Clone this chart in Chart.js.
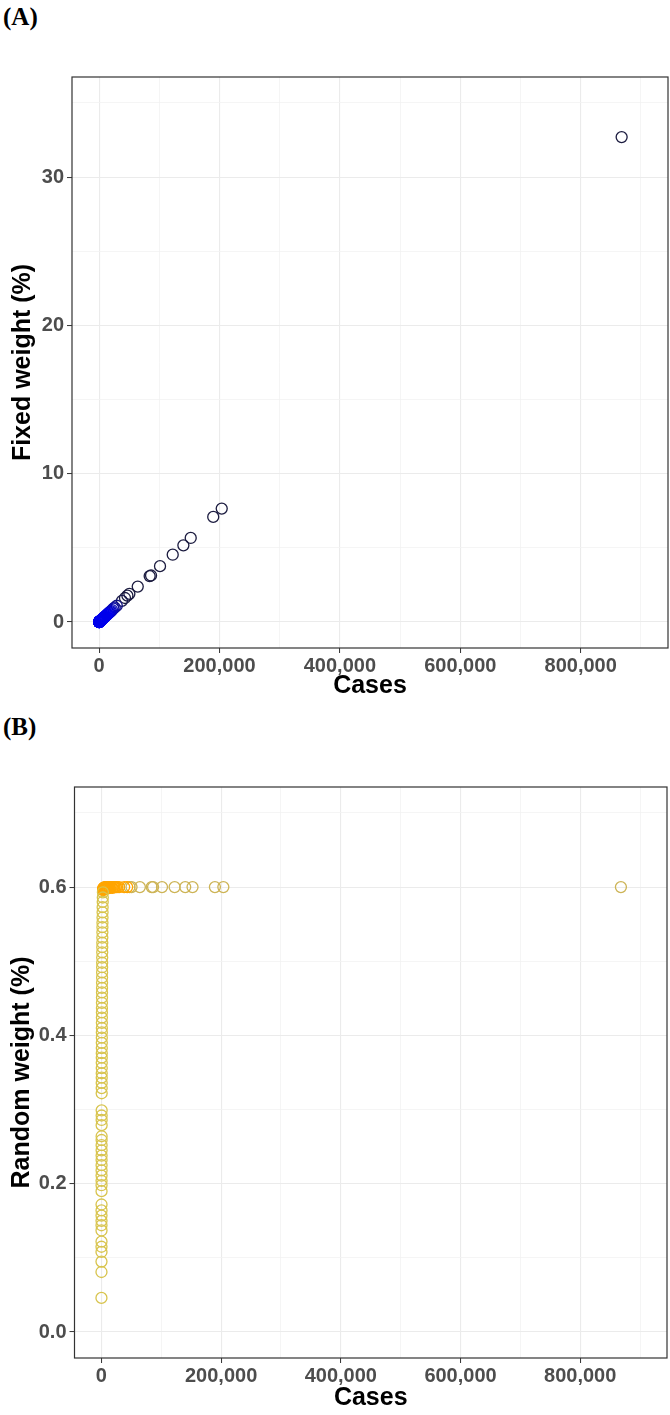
<!DOCTYPE html>
<html><head><meta charset="utf-8">
<script src="https://cdn.jsdelivr.net/npm/chart.js@4.4.1/dist/chart.umd.min.js"></script>
<style>
html,body{margin:0;padding:0;background:#fff;}
body{width:670px;height:1415px;position:relative;overflow:hidden;}
.lab{position:absolute;left:3px;font-family:"Liberation Serif","Times New Roman",serif;font-weight:bold;font-size:25px;line-height:1;color:#000;}
.wrap{position:absolute;left:0;width:670px;}
canvas{display:block;}
</style></head><body>
<div class="lab" style="top:4px">(A)</div>
<div class="lab" style="top:714px">(B)</div>
<div class="wrap" style="top:0;height:710px"><canvas id="cA" width="670" height="710"></canvas></div>
<div class="wrap" style="top:710px;height:705px"><canvas id="cB" width="670" height="705"></canvas></div>
<script>
// ---- data (one entry per country) ----
const cases = [
  868000, 203700, 189600, 152200, 140000, 122300, 101200, 86300, 84000, 64200,
  50300, 47000, 43000, 38000, 29400, 26000, 23700, 21500, 19800, 18300,
  16900, 15400, 14100, 12900, 11800, 10700, 9800, 9000, 8200, 7500,
  6900, 6300, 5800, 5300, 4900, 4500, 4100, 3800, 3500, 3200, 2900, 2700,
  2450, 2300, 2150, 2000, 1900, 1800, 1720, 1650, 1580, 1500,
  1440, 1380, 1320, 1260, 1210, 1160, 1110, 1060, 1020, 980,
  940, 900, 860, 830, 800, 770, 740, 710, 680, 650,
  625, 600, 575, 550, 530, 510, 490, 470, 450, 430,
  410, 370, 355, 340, 325, 300, 290, 280, 270, 258,
  246, 234, 222, 210, 200, 190, 178, 158, 148, 140,
  132, 125, 118, 104, 97, 90, 78, 64, 32
];
const fixedWeight = [
  32.7, 7.65, 7.09, 5.67, 5.17, 4.54, 3.77, 3.14, 3.10, 2.39,
  1.90, 1.78, 1.62, 1.43, 1.10, 0.98, 0.90, 0.81, 0.74, 0.69,
  0.64, 0.58, 0.53, 0.49, 0.45, 0.40, 0.37, 0.34, 0.31, 0.28,
  0.26, 0.24, 0.22, 0.20, 0.18, 0.17, 0.155, 0.14, 0.13, 0.12, 0.11, 0.10,
  0.092, 0.087, 0.081, 0.075, 0.072, 0.068, 0.065, 0.062, 0.060, 0.057,
  0.054, 0.052, 0.050, 0.048, 0.046, 0.044, 0.042, 0.040, 0.038, 0.037,
  0.035, 0.034, 0.032, 0.031, 0.030, 0.029, 0.028, 0.027, 0.026, 0.025,
  0.024, 0.023, 0.022, 0.021, 0.020, 0.019, 0.018, 0.018, 0.017, 0.016,
  0.015, 0.014, 0.013, 0.013, 0.012, 0.011, 0.011, 0.011, 0.010, 0.010,
  0.009, 0.009, 0.008, 0.008, 0.008, 0.007, 0.007, 0.006, 0.006, 0.005,
  0.005, 0.005, 0.004, 0.004, 0.004, 0.003, 0.003, 0.002, 0.001
];
const randomWeight = [
  0.6, 0.6, 0.6, 0.6, 0.6, 0.6, 0.6, 0.6, 0.6, 0.6,
  0.6, 0.6, 0.6, 0.6, 0.6, 0.6, 0.6, 0.6, 0.6, 0.599,
  0.6, 0.6, 0.599, 0.6, 0.6, 0.599, 0.6, 0.598, 0.6, 0.599,
  0.6, 0.598, 0.599, 0.6, 0.598, 0.599, 0.597, 0.598, 0.599, 0.597, 0.598, 0.596,
  0.593, 0.586, 0.580, 0.573, 0.566, 0.559, 0.552, 0.546, 0.539, 0.532,
  0.525, 0.519, 0.512, 0.505, 0.498, 0.492, 0.485, 0.478, 0.471, 0.464,
  0.458, 0.451, 0.444, 0.437, 0.431, 0.424, 0.417, 0.410, 0.404, 0.397,
  0.390, 0.383, 0.376, 0.370, 0.363, 0.356, 0.349, 0.343, 0.336, 0.329,
  0.322, 0.299, 0.292, 0.286, 0.279, 0.264, 0.259, 0.252, 0.245, 0.238,
  0.232, 0.225, 0.218, 0.211, 0.204, 0.198, 0.190, 0.172, 0.164, 0.157,
  0.150, 0.144, 0.137, 0.122, 0.115, 0.108, 0.095, 0.081, 0.046
];
// ---- axis ticks ----
const xMajorTicks = [0, 200000, 400000, 600000, 800000];
const xTickLabels = ['0', '200,000', '400,000', '600,000', '800,000'];
const xMinorTicks = [100000, 300000, 500000, 700000, 900000];
const yMajorTicksA = [0, 10, 20, 30];
const yTickLabelsA = ['0', '10', '20', '30'];
const yMinorTicksA = [5, 15, 25, 35];
const yMajorTicksB = [0, 0.2, 0.4, 0.6];
const yTickLabelsB = ['0.0', '0.2', '0.4', '0.6'];
const yMinorTicksB = [0.1, 0.3, 0.5, 0.7];

const FONT = '"Liberation Sans", Arial, Helvetica, sans-serif';
function near(a, b) { return Math.abs(a - b) < 1e-9; }
function isMajor(list, v) { return list.some(t => near(t, v)); }

function makeAxis(major, labels, minor, min, max, opts) {
  const all = major.concat(minor).sort((a, b) => a - b);
  return {
    type: 'linear', min: min, max: max, position: opts.position,
    afterBuildTicks: s => { s.ticks = all.map(v => ({ value: v })); },
    afterFit: s => {
      if (opts.width) s.width = opts.width;
      if (opts.height) s.height = opts.height;
      s.paddingLeft = 0; s.paddingRight = 0; s.paddingTop = 0; s.paddingBottom = 0;
    },
    ticks: {
      autoSkip: false, maxRotation: 0, minRotation: 0, padding: opts.tickPad,
      color: '#4D4D4D', font: { family: FONT, size: 20, weight: 'bold' },
      callback: v => { const i = major.findIndex(t => near(t, v)); return i >= 0 ? labels[i] : ''; }
    },
    grid: {
      drawOnChartArea: true, drawTicks: true, tickLength: 5,
      color: c => isMajor(major, c.tick.value) ? '#EBEBEB' : '#F2F2F2',
      lineWidth: c => isMajor(major, c.tick.value) ? 1.1 : 0.8,
      tickColor: c => isMajor(major, c.tick.value) ? '#333333' : 'rgba(0,0,0,0)',
      tickWidth: 1
    },
    border: { display: false },
    title: { display: true, text: opts.title, color: '#000',
      font: { family: FONT, size: 25, weight: 'bold' }, padding: opts.titlePad }
  };
}
const frame = { id: 'frame', afterDatasetsDraw(chart) {
  const a = chart.chartArea, ctx = chart.ctx; ctx.save();
  ctx.strokeStyle = '#333333'; ctx.lineWidth = 1.2;
  ctx.strokeRect(a.left, a.top, a.right - a.left, a.bottom - a.top); ctx.restore(); } };

function colorA(c) {
  const v = c.raw ? c.raw.x : 0;
  const t = Math.max(0, Math.min(1, (v - 12000) / 28000));
  return 'rgb(' + Math.round(t * 28) + ',' + Math.round(t * 28) + ',' + Math.round(235 - t * 171) + ')';
}
function colorB(c) {
  const p = c.raw || { x: 0, y: 0 };
  if (p.y >= 0.595 && p.x < 45000) return '#FFA500';
  if (p.y >= 0.595) return '#CDB456';
  return '#D8C44E';
}
const ptsA = cases.map((c, i) => ({ x: c, y: fixedWeight[i] }));
const ptsB = cases.map((c, i) => ({ x: c, y: randomWeight[i] }));

function makeChart(id, pts, colorFn, yAxis, leftW, xH, xTitlePad, padRight) {
  return new Chart(document.getElementById(id), {
    type: 'scatter',
    data: { datasets: [{ data: pts, pointRadius: 5.5, pointHoverRadius: 5.5, pointBorderWidth: 1.3,
      pointBackgroundColor: 'rgba(0,0,0,0)', pointBorderColor: colorFn }] },
    options: { responsive: false, animation: false, events: [],
      layout: { autoPadding: false, padding: { top: 77, right: padRight, left: 0, bottom: 0 } },
      plugins: { legend: { display: false }, tooltip: { enabled: false } },
      scales: {
        x: makeAxis(xMajorTicks, xTickLabels, xMinorTicks, -45000, 945000,
          { position: 'bottom', height: xH, tickPad: 1, title: 'Cases', titlePad: { top: 0, bottom: xTitlePad } }),
        y: yAxis(leftW) } },
    plugins: [frame] });
}
makeChart('cA', ptsA, colorA,
  w => makeAxis(yMajorTicksA, yTickLabelsA, yMinorTicksA, -1.75, 36.75,
    { position: 'left', width: w, tickPad: 3, title: 'Fixed weight (%)', titlePad: { top: 8, bottom: 0 } }), 72, 62, 9, 2);
makeChart('cB', ptsB, colorB,
  w => makeAxis(yMajorTicksB, yTickLabelsB, yMinorTicksB, -0.035, 0.735,
    { position: 'left', width: w, tickPad: 3, title: 'Random weight (%)', titlePad: { top: 7, bottom: 0 } }), 74.5, 57, 2, 3);
</script>
</body></html>
